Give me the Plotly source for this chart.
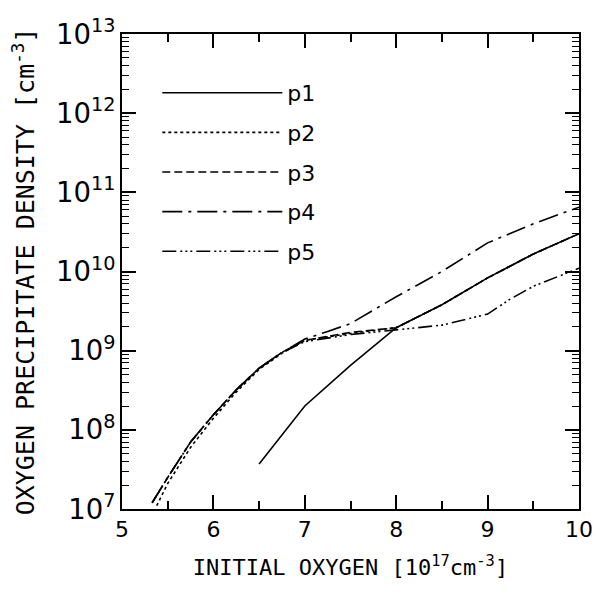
import plotly.graph_objects as go

# ---- data ----
p1_x = [6.5, 7.0, 7.5, 8.0, 8.5, 9.0, 9.5, 10.0]
p1_y = [3.7e7, 2.0e8, 6.5e8, 1.95e9, 3.8e9, 8.3e9, 1.66e10, 3.0e10]

p2_x = [5.38, 5.5, 5.75, 6.0, 6.25, 6.5, 6.75, 7.0, 7.5, 8.0, 8.5, 9.0, 9.5, 10.0]
p2_y = [1.1e7, 2.1e7, 6.0e7, 1.4e8, 3.0e8, 5.8e8, 9.3e8, 1.35e9, 1.65e9, 1.95e9, 3.8e9, 8.3e9, 1.66e10, 3.0e10]

p3_x = [5.33, 5.5, 5.75, 6.0, 6.25, 6.5, 6.75, 7.0, 7.5, 8.0, 8.5, 9.0, 9.5, 10.0]
p3_y = [1.2e7, 2.5e7, 7.0e7, 1.55e8, 3.2e8, 6.0e8, 9.5e8, 1.35e9, 1.7e9, 1.95e9, 3.8e9, 8.3e9, 1.66e10, 3.0e10]

p4_x = [5.33, 5.5, 5.75, 6.0, 6.25, 6.5, 6.75, 7.0, 7.25, 7.5, 8.0, 8.5, 9.0, 9.5, 10.0]
p4_y = [1.2e7, 2.5e7, 7.0e7, 1.55e8, 3.2e8, 6.0e8, 9.5e8, 1.4e9, 1.75e9, 2.2e9, 4.8e9, 1.0e10, 2.3e10, 4.0e10, 6.5e10]

p5_x = [5.33, 5.5, 5.75, 6.0, 6.25, 6.5, 6.75, 7.0, 7.5, 8.0, 8.5, 9.0, 9.25, 9.5, 10.0]
p5_y = [1.2e7, 2.5e7, 7.0e7, 1.55e8, 3.2e8, 6.0e8, 9.5e8, 1.3e9, 1.6e9, 1.85e9, 2.1e9, 2.9e9, 4.5e9, 6.5e9, 1.1e10]

names = ["p1", "p2", "p3", "p4", "p5"]
dashes = ["solid", "dot", "8px,4px", "20px,6px,3px,6px", "14px,4px,2px,3px,2px,3px,2px,4px"]
series = [(p1_x, p1_y), (p2_x, p2_y), (p3_x, p3_y), (p4_x, p4_y), (p5_x, p5_y)]

fig = go.Figure()
for (xs, ys), nm, ds in zip(series, names, dashes):
    fig.add_trace(go.Scatter(x=xs, y=ys, mode="lines", name=nm, legendgroup=nm,
                             line=dict(color="black", width=1.6, dash=ds)))

W, H = 605, 603
L, R, T, B = 122, 17, 34, 94

fig.update_xaxes(range=[5, 10], dtick=1, tick0=5,
                 showline=True, linecolor="black", linewidth=2, mirror="ticks",
                 ticks="inside", ticklen=14, tickwidth=2, tickcolor="#000000",
                 showgrid=False, zeroline=False,
                 tickfont=dict(size=22, color="black", family="DejaVu Sans"),
                 minor=dict(ticks="inside", dtick=0.5, tick0=5, ticklen=8, tickcolor="#000000", tickwidth=1.5),
                 title=dict(text="INITIAL OXYGEN [10<sup>17</sup>cm<sup>-3</sup>]",
                            font=dict(size=22, color="black", family="DejaVu Sans Mono"), standoff=18))
fig.update_yaxes(type="log", range=[7, 13], dtick=1, exponentformat="power",
                 showline=True, linecolor="black", linewidth=2, mirror="ticks",
                 ticks="inside", ticklen=14, tickwidth=2, tickcolor="#000000",
                 showgrid=False, zeroline=False,
                 tickfont=dict(size=22, color="black", family="DejaVu Sans"),
                 minor=dict(ticks="inside", dtick="D1", ticklen=7, tickcolor="#000000", tickwidth=1.2),
                 title=dict(text="OXYGEN PRECIPITATE DENSITY [cm<sup>-3</sup>]",
                            font=dict(size=25, color="black", family="DejaVu Sans Mono"), standoff=14))

fig.update_layout(width=W, height=H, margin=dict(l=L, r=R, t=T, b=B),
                  plot_bgcolor="white", paper_bgcolor="white",
                  showlegend=True,
                  legend=dict(x=(158 - L) / (W - L - R), y=1 - (72 - T) / (H - T - B),
                              xanchor="left", yanchor="top", bgcolor="rgba(0,0,0,0)",
                              borderwidth=0, itemwidth=120, tracegroupgap=8,
                              font=dict(size=22, color="black", family="DejaVu Sans")))

fig.write_html("out.html", config={"displayModeBar": False},
               post_script="document.body.style.margin='0';")
